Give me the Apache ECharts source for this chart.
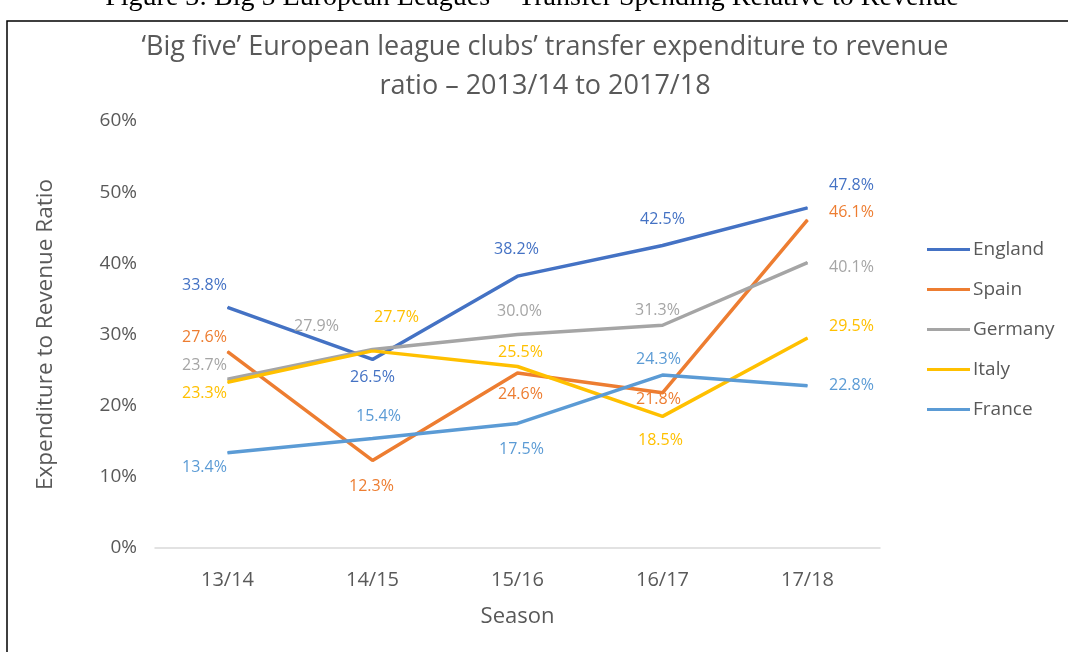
<!DOCTYPE html>
<html>
<head>
    <meta charset="utf-8">
    <script src="https://cdn.jsdelivr.net/npm/echarts@6/dist/echarts.min.js"></script>
    <style>
        html, body { margin: 0; padding: 0; background: #fff; }
    </style>
</head>
<body>
<div id="main" style="width: 1068px;height:652px;"></div>
<script type="text/javascript">
    // data
    const seasons = ['13/14', '14/15', '15/16', '16/17', '17/18'];
    const yTicks = [0, 10, 20, 30, 40, 50, 60];
    const england = [33.8, 26.5, 38.2, 42.5, 47.8];
    const spain = [27.6, 12.3, 24.6, 21.8, 46.1];
    const germany = [23.7, 27.9, 30.0, 31.3, 40.1];
    const italy = [23.3, 27.7, 25.5, 18.5, 29.5];
    const france = [13.4, 15.4, 17.5, 24.3, 22.8];

    // where each data label sits relative to its point (px)
    const labelOffsets = {
        England: [[-23, -22], [0, 18], [-1, -27], [0, -26], [44, -22]],
        Spain: [[-23, -14], [-1, 26], [3, 22], [-4, 7], [44, -7]],
        Germany: [[-23, -14], [-56, -23], [2, -23], [-5, -15], [44, 5]],
        Italy: [[-23, 11], [24, -33], [3, -14], [-2, 24], [44, -12]],
        France: [[-23, 15], [6, -22], [4, 26], [-4, -16], [44, 0]]
    };

    const font = '"Open Sans", sans-serif';
    const grey = '#595959';

    function makeSeries(name, values, color) {
        return {
            name: name,
            type: 'line',
            symbol: 'circle',
            symbolSize: 1,
            showSymbol: true,
            lineStyle: { width: 3.5, color: color },
            itemStyle: { color: color },
            data: values.map(function (v, i) {
                return {
                    value: v,
                    label: {
                        show: true,
                        position: 'inside',
                        offset: labelOffsets[name][i],
                        formatter: v.toFixed(1) + '%',
                        color: color,
                        fontFamily: font,
                        fontSize: 16
                    }
                };
            })
        };
    }

    const myChart = echarts.init(document.getElementById('main'));

    const option = {
        backgroundColor: '#fff',
        animation: false,
        title: {
            text: '\u2018Big five\u2019 European league clubs\u2019 transfer expenditure to revenue\nratio \u2013 2013/14 to 2017/18',
            left: 540,
            top: 23,
            textAlign: 'center',
            textStyle: {
                fontFamily: font,
                fontSize: 27,
                fontWeight: 'normal',
                color: grey,
                lineHeight: 39
            }
        },
        graphic: [
            {
                type: 'rect',
                shape: { x: 7, y: 21, width: 1100, height: 700 },
                style: { fill: 'none', stroke: '#000', lineWidth: 1.5 }
            },
            {
                type: 'text',
                x: 532,
                y: 12,
                style: {
                    text: 'Figure 3: Big 5 European Leagues \u2013 Transfer Spending Relative to Revenue',
                    font: '28px "Liberation Serif", serif',
                    fill: '#000',
                    align: 'center',
                    verticalAlign: 'bottom'
                }
            }
        ],
        legend: {
            orient: 'vertical',
            left: 927,
            top: 240,
            padding: 0,
            itemGap: 21,
            itemWidth: 43,
            itemHeight: 3,
            icon: 'rect',
            textStyle: { fontFamily: font, fontSize: 19, color: grey, padding: [0, 0, 0, -2] },
            data: ['England', 'Spain', 'Germany', 'Italy', 'France']
        },
        grid: {
            left: 155,
            right: 188,
            top: 121,
            bottom: 104
        },
        xAxis: {
            type: 'category',
            data: seasons,
            boundaryGap: true,
            name: 'Season',
            nameLocation: 'middle',
            nameGap: 58,
            nameTextStyle: { fontFamily: font, fontSize: 22, color: grey },
            axisLine: { lineStyle: { color: '#d9d9d9', width: 1.5 } },
            axisTick: { show: false },
            axisLabel: { fontFamily: font, fontSize: 20, color: grey, margin: 22 }
        },
        yAxis: {
            type: 'value',
            min: yTicks[0],
            max: yTicks[yTicks.length - 1],
            interval: 10,
            name: 'Expenditure to Revenue Ratio',
            nameLocation: 'middle',
            nameGap: 98,
            nameTextStyle: { fontFamily: font, fontSize: 22.5, color: grey },
            axisLine: { show: false },
            axisTick: { show: false },
            splitLine: { show: false },
            axisLabel: {
                fontFamily: font,
                fontSize: 19,
                color: grey,
                margin: 18,
                formatter: function (v) { return v + '%'; }
            }
        },
        series: [
            makeSeries('England', england, '#4472C4'),
            makeSeries('Spain', spain, '#ED7D31'),
            makeSeries('Germany', germany, '#A5A5A5'),
            makeSeries('Italy', italy, '#FFC000'),
            makeSeries('France', france, '#5B9BD5')
        ]
    };

    myChart.setOption(option);
</script>
</body>
</html>
